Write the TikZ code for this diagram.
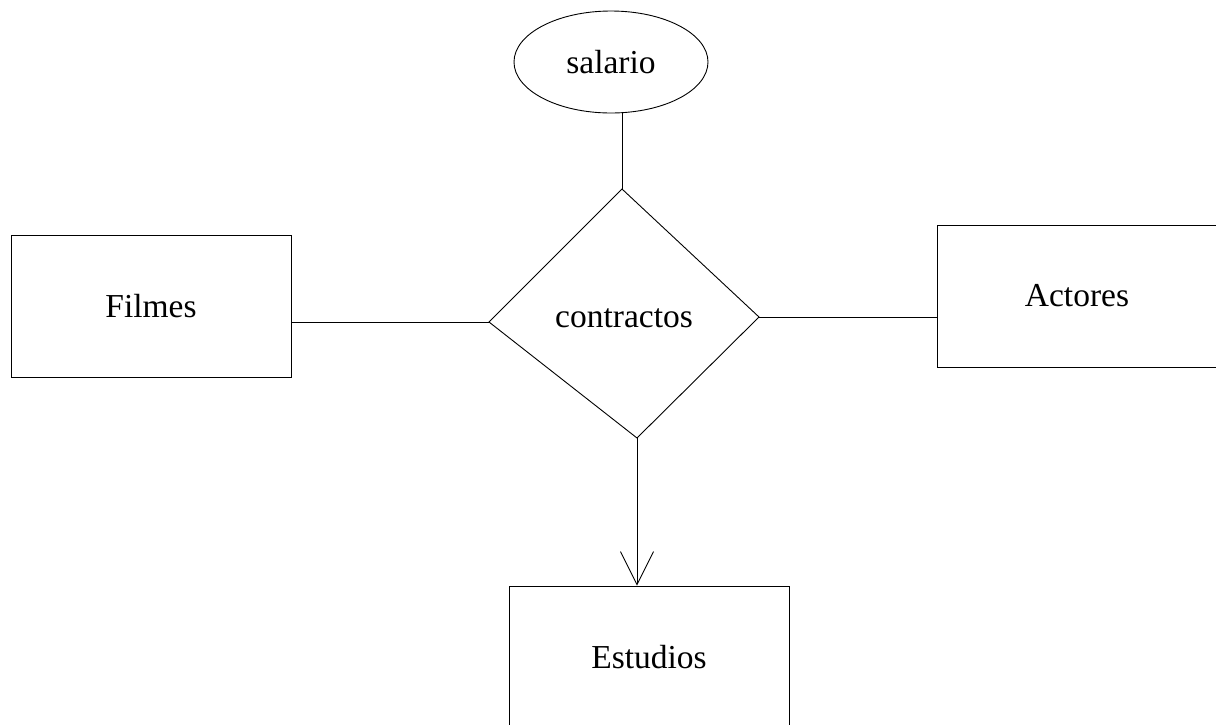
\documentclass[tikz,border=0pt]{standalone}
\usepackage{fontspec}
\setmainfont{Liberation Serif}
\usepackage{tikz}
\usetikzlibrary{
  positioning,
  calc,
  arrows.meta,
  shapes.geometric,
}
\tikzset{
  meta box/.style={
    draw,
    black,
    line width=0.9pt,
    text centered
  },
  entity/.style={
    meta box,
    rectangle,
    minimum width=280pt,
    minimum height=142pt
  },
  attrib/.style={
    meta box,
    ellipse,
    minimum width=194pt,
    minimum height=102pt
  },
  link/.style={
    line width=0.9pt
  }
}

\begin{document}
\begin{tikzpicture}[x=1pt, y=-1pt, font=\fontsize{33.5}{40}\selectfont]
  \path[use as bounding box, clip] (0,0) rectangle (1216,724);

  \node[attrib]  (salario)  at (611,62)  {salario};
  \node[entity]  (filmes)   at (151,306) {Filmes};
  \node[entity]  (actores)  at (1077,296) {Actores};
  \node[entity]  (estudios) at (649,657) {Estudios};

  % rombo de la relacion
  \coordinate (ct) at (622,189);
  \coordinate (cr) at (759,317);
  \coordinate (cb) at (637,438);
  \coordinate (cl) at (489,322);
  \draw[link] (ct) -- (cr) -- (cb) -- (cl) -- cycle;
  \node (contractos) at (624,318) {contractos};

  \draw[link] (ct |- salario.south) -- (ct);
  \draw[link] (filmes.east |- cl) -- (cl);
  \draw[link] (cr) -- (cr -| actores.west);
  \draw[link, -{Straight Barb[length=33pt, width=33pt, line width=0.9pt]}]
    (cb) -- (cb |- estudios.north);
\end{tikzpicture}
\end{document}
